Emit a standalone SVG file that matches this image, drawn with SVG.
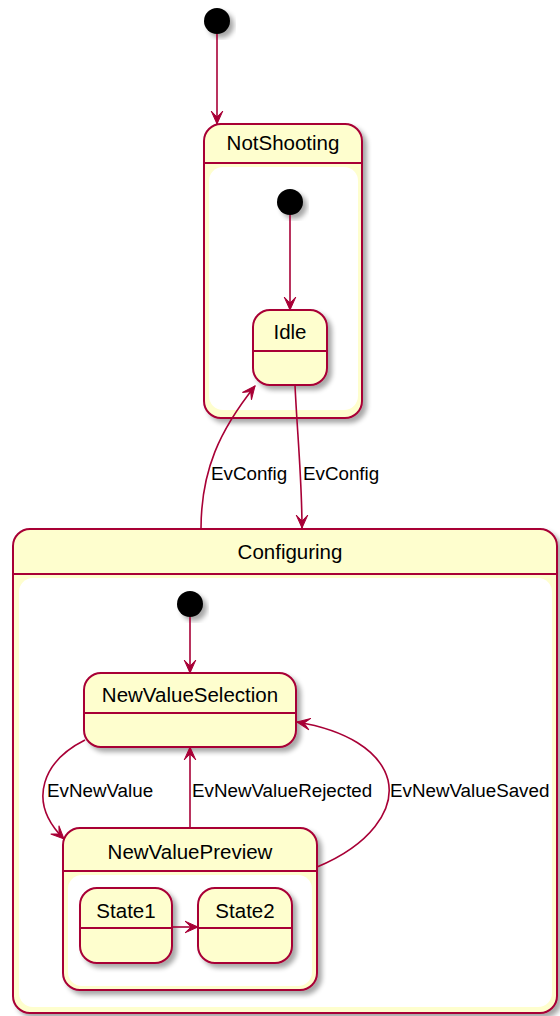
<svg xmlns="http://www.w3.org/2000/svg" width="560" height="1016" viewBox="0 0 560 1016">
<style>
.st{fill:#FEFECE;stroke:#A80036;stroke-width:2;filter:url(#sh)}
.in{fill:#FFFFFF;stroke:none}
.sep{stroke:#A80036;stroke-width:2}
.ini{fill:#000;filter:url(#sh)}
.t{font-family:"Liberation Sans",Arial,sans-serif;font-size:20.5px;text-anchor:middle;fill:#000}
.l{font-family:"Liberation Sans",Arial,sans-serif;font-size:18.8px;fill:#000}
.e{fill:none;stroke:#A80036;stroke-width:1.6;marker-end:url(#arr)}
</style>
<defs>
<filter id="sh" x="-20%" y="-20%" width="140%" height="140%">
<feGaussianBlur in="SourceAlpha" stdDeviation="2.5"/>
<feOffset dx="4" dy="4" result="o"/>
<feComponentTransfer><feFuncA type="linear" slope="0.35"/></feComponentTransfer>
<feMerge><feMergeNode/><feMergeNode in="SourceGraphic"/></feMerge>
</filter>
<marker id="arr" markerUnits="userSpaceOnUse" viewBox="-14 -7 15 14" refX="0" refY="0" markerWidth="15" markerHeight="14" orient="auto">
<path d="M0,0 L-13,-5.8 L-7,0 L-13,5.8 Z" fill="#A80036" stroke="#A80036" stroke-width="1"/>
</marker>
</defs>

<g id="start0"><circle class="ini" cx="217" cy="21" r="13"/></g>

<g id="NotShooting">
<rect class="st" x="204" y="124" width="158" height="294" rx="17"/>
<line class="sep" x1="204" y1="163" x2="362" y2="163"/>
<rect class="in" x="209" y="167" width="149" height="243" rx="14"/>
<text class="t" x="283" y="150">NotShooting</text>
</g>
<g id="start1"><circle class="ini" cx="290" cy="202" r="13"/></g>
<g id="Idle">
<rect class="st" x="253" y="310" width="74" height="75" rx="17"/>
<line class="sep" x1="253" y1="351" x2="327" y2="351"/>
<text class="t" x="290" y="339">Idle</text>
</g>

<g id="Configuring">
<rect class="st" x="13" y="529" width="544" height="484" rx="17"/>
<line class="sep" x1="13" y1="574" x2="557" y2="574"/>
<rect class="in" x="19" y="578" width="533" height="429" rx="14"/>
<text class="t" x="290" y="559">Configuring</text>
</g>
<g id="start2"><circle class="ini" cx="190" cy="604" r="13"/></g>
<g id="NewValueSelection">
<rect class="st" x="84" y="673" width="212" height="74" rx="17"/>
<line class="sep" x1="84" y1="713" x2="296" y2="713"/>
<text class="t" x="190" y="702">NewValueSelection</text>
</g>
<g id="NewValuePreview">
<rect class="st" x="63" y="828" width="254" height="162" rx="17"/>
<line class="sep" x1="63" y1="871" x2="317" y2="871"/>
<rect class="in" x="68" y="875" width="244" height="111" rx="14"/>
<text class="t" x="190" y="859">NewValuePreview</text>
</g>
<g id="State1">
<rect class="st" x="80" y="888" width="92" height="75" rx="17"/>
<line class="sep" x1="80" y1="928" x2="172" y2="928"/>
<text class="t" x="126" y="918">State1</text>
</g>
<g id="State2">
<rect class="st" x="198" y="888" width="94" height="75" rx="17"/>
<line class="sep" x1="198" y1="928" x2="292" y2="928"/>
<text class="t" x="245" y="918">State2</text>
</g>

<g id="connectors">
<path class="e" d="M217,34 L217,124"/>
<path class="e" d="M290,215 L290,310"/>
<path class="e" d="M295,385 C297,430 302,480 302,528"/>
<path class="e" d="M201,529 C201,470 220,430 255,386"/>
<path class="e" d="M190,617 L190,673"/>
<path class="e" d="M85,740 C45,760 25,800 64,839"/>
<path class="e" d="M190,828 L190,747"/>
<path class="e" d="M317,867 C370,845 395,810 388,780 C380,750 345,730 297,722"/>
<path class="e" d="M172,927 L198,927"/>
<text class="l" x="211" y="480">EvConfig</text>
<text class="l" x="303" y="480">EvConfig</text>
<text class="l" x="47" y="797">EvNewValue</text>
<text class="l" x="192" y="797">EvNewValueRejected</text>
<text class="l" x="390" y="797">EvNewValueSaved</text>
</g>
</svg>
